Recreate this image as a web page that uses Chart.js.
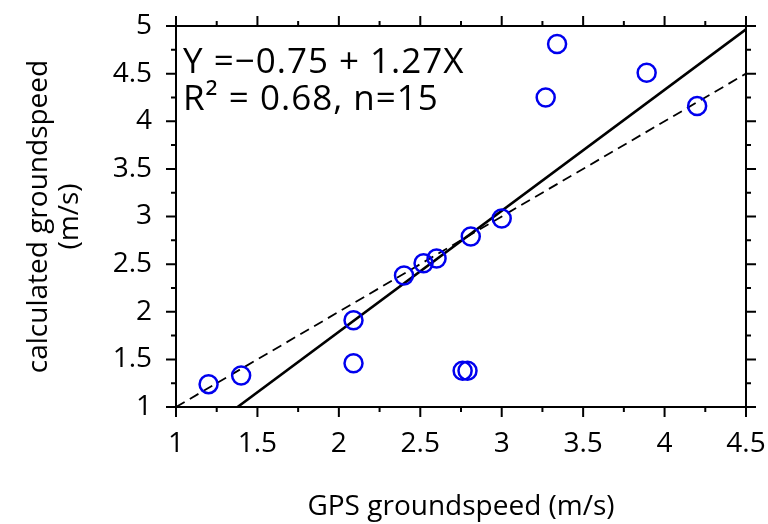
<!DOCTYPE html>
<html>
<head>
<meta charset="utf-8">
<script src="https://cdn.jsdelivr.net/npm/chart.js@4"></script>
<style>
  html, body { margin: 0; padding: 0; background: #fff; }
  #wrap { width: 768px; height: 524px; }
</style>
</head>
<body>
<div id="wrap"><canvas id="myChart"></canvas></div>
<script>
// dados
const gpsSpeed = [1.20, 1.40, 2.09, 2.09, 2.76, 2.79, 2.40, 2.52, 2.60, 2.81, 3.00, 3.27, 3.34, 3.89, 4.20];
const calcSpeed = [1.24, 1.33, 1.91, 1.46, 1.38, 1.38, 2.38, 2.51, 2.56, 2.79, 2.98, 4.25, 4.81, 4.51, 4.16];

// reta ajustada Y = -0.75 + 1.27X (pontos extremos)
const fitX = [1.378, 4.5];
const fitY = [1.0, 4.965];

// reta 1:1
const oneX = [1, 4.5];
const oneY = [1, 4.5];

const annotationLines = ["Y =\u22120.75 + 1.27X", "R\u00b2 = 0.68, n=15"];

const FONT = "'Open Sans', 'Noto Sans', sans-serif";

function toPoints(xs, ys) {
  return xs.map((x, i) => ({ x: x, y: ys[i] }));
}

// eixos com marcas maiores e menores nos quatro lados
const frameTicks = {
  id: "frameTicks",
  afterDatasetsDraw(chart) {
    const { ctx, chartArea: a, scales } = chart;
    const xs = scales.x, ys = scales.y;
    ctx.save();
    ctx.strokeStyle = "#000";
    ctx.lineWidth = 2;
    ctx.strokeRect(a.left, a.top, a.right - a.left, a.bottom - a.top);
    ctx.beginPath();
    for (let v = 1; v <= 4.5001; v += 0.25) {
      const px = xs.getPixelForValue(v);
      const len = Math.abs(v * 2 - Math.round(v * 2)) < 0.01 ? 10 : 5;
      ctx.moveTo(px, a.bottom); ctx.lineTo(px, a.bottom + len);
      ctx.moveTo(px, a.top); ctx.lineTo(px, a.top - len);
    }
    for (let v = 1; v <= 5.0001; v += 0.25) {
      const py = ys.getPixelForValue(v);
      const len = Math.abs(v * 2 - Math.round(v * 2)) < 0.01 ? 10 : 5;
      ctx.moveTo(a.left, py); ctx.lineTo(a.left - len, py);
      ctx.moveTo(a.right, py); ctx.lineTo(a.right + len, py);
    }
    ctx.stroke();

    // texto da equação
    ctx.fillStyle = "#000";
    ctx.font = "35px " + FONT;
    ctx.letterSpacing = "1px";
    ctx.textAlign = "left";
    ctx.textBaseline = "alphabetic";
    ctx.fillText(annotationLines[0], a.left + 7, a.top + 47);
    ctx.fillText(annotationLines[1], a.left + 7, a.top + 84);
    ctx.restore();
  }
};

const ctx = document.getElementById("myChart");

new Chart(ctx, {
  type: "scatter",
  data: {
    datasets: [
      {
        label: "dados",
        data: toPoints(gpsSpeed, calcSpeed),
        pointRadius: 9,
        pointHoverRadius: 9,
        borderWidth: 2.5,
        borderColor: "#0000ee",
        backgroundColor: "rgba(0,0,0,0)",
      },
      {
        label: "ajuste",
        data: toPoints(fitX, fitY),
        showLine: true,
        pointRadius: 0,
        borderWidth: 2.6,
        borderColor: "#000",
      },
      {
        label: "1:1",
        data: toPoints(oneX, oneY),
        showLine: true,
        pointRadius: 0,
        borderWidth: 1.8,
        borderDash: [10, 6],
        borderColor: "#000",
      },
    ],
  },
  options: {
    responsive: true,
    maintainAspectRatio: false,
    animation: false,
    layout: { padding: { top: 26, right: 22, left: 0, bottom: 0 } },
    plugins: {
      legend: { display: false },
      tooltip: { enabled: false },
    },
    scales: {
      x: {
        type: "linear",
        min: 1,
        max: 4.5,
        grid: { display: false, drawTicks: false },
        border: { display: false },
        ticks: {
          stepSize: 0.5,
          autoSkip: false,
          maxRotation: 0,
          padding: 20,
          color: "#000",
          font: { family: FONT, size: 28 },
          callback: (v) => String(v),
        },
        title: {
          display: true,
          text: "GPS groundspeed (m/s)",
          color: "#000",
          font: { family: FONT, size: 28 },
          padding: { top: 0, bottom: 0 },
        },
        afterFit(scale) {
          scale.height = 117;
          scale.paddingLeft = 0;
          scale.paddingRight = 0;
        },
      },
      y: {
        type: "linear",
        min: 1,
        max: 5,
        grid: { display: false, drawTicks: false },
        border: { display: false },
        ticks: {
          stepSize: 0.5,
          autoSkip: false,
          padding: 24,
          color: "#000",
          font: { family: FONT, size: 28 },
          callback: (v) => String(v),
        },
        title: {
          display: true,
          text: ["calculated groundspeed", "(m/s)"],
          color: "#000",
          font: { family: FONT, size: 28, lineHeight: 1.1 },
          padding: { top: 24, bottom: 0 },
        },
        afterFit(scale) {
          scale.width = 176;
          scale.paddingTop = 0;
          scale.paddingBottom = 0;
        },
      },
    },
  },
  plugins: [frameTicks],
});
</script>
</body>
</html>
